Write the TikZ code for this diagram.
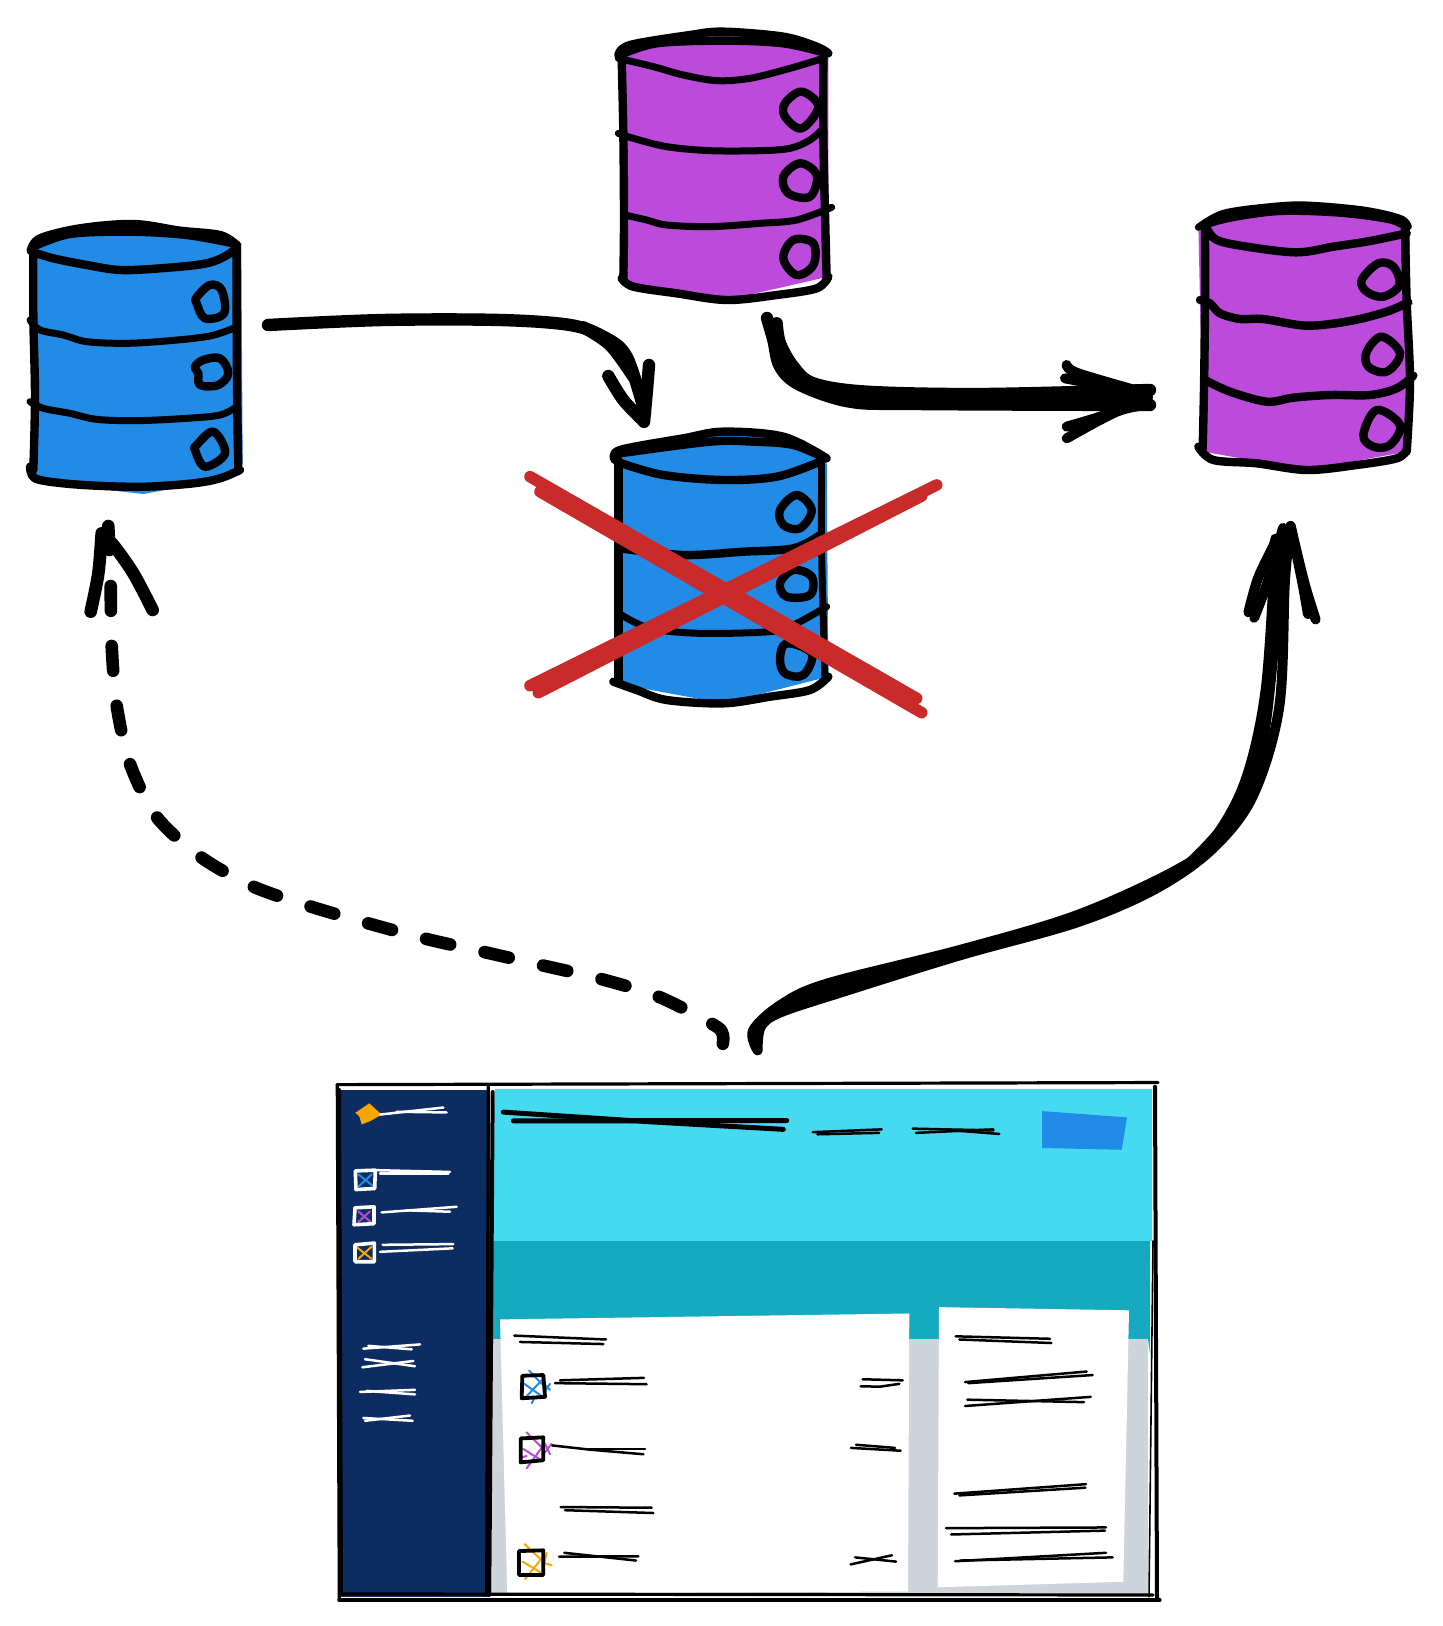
\documentclass[tikz,border=0pt]{standalone}
\definecolor{dbblue}{HTML}{228BE6}
\definecolor{dbpurple}{HTML}{BC4ADB}
\definecolor{crossred}{HTML}{C92A2A}
\definecolor{amber}{HTML}{F7A600}
\definecolor{skycyan}{HTML}{46DAF1}
\definecolor{tealband}{HTML}{15AABF}
\definecolor{paneGray}{HTML}{CED4DC}
\definecolor{navy}{HTML}{0D2D62}
\tikzset{
  zoomed/.style 2 args={xshift=#1*0.5pt,yshift=-#2*0.5pt,x=0.16667pt,y=-0.16667pt},
  appzoom/.style={xshift=#1*0.5pt,yshift=-534.4pt,x=0.16667pt,y=-0.176pt},
  ink/.style={black,line width=4.2pt,line cap=round,line join=round},
  inkthin/.style={ink,line width=3.5pt},
  ringline/.style={ink,line width=4.2pt},
  thickarrow/.style={ink,line width=6.2pt},
  bigarrow/.style={ink,line width=5pt},
  dashline/.style={ink,line width=6.3pt,dash pattern=on 12.4pt off 17.6pt},
  redx/.style={crossred,line width=5.8pt,line cap=round},
  fineblack/.style={black,line width=1.25pt,line cap=round,line join=round},
  finewhite/.style={white,line width=1.25pt,line cap=round,line join=round},
  frame/.style={black,line width=1.6pt,line cap=round},
  hatch/.style={line width=1pt,line cap=round},
}
\newcommand\sk[2][ink]{\draw[#1] plot[smooth,tension=.55] coordinates {#2};}
\newcommand\ring[1]{\draw[ringline] plot[smooth cycle,tension=.6] coordinates {#1};}
\newcommand\body[2]{\fill[#1] plot coordinates {#2} -- cycle;}
\begin{document}
\begin{tikzpicture}[x=0.5pt,y=-0.5pt]
\useasboundingbox (0,0) rectangle (1442,1626);
\fill[white] (0,0) rectangle (1442,1626);

% ---- left blue database
\begin{scope}[zoomed={20}{210}]
\body{dbblue}{(35,110)(200,50)(340,40)(620,70)(664,100)(668,760)(600,810)(370,852)(130,825)(35,790)}
\sk{(32,122)(60,85)(180,55)(340,42)(480,62)(600,75)(650,105)}
\sk{(40,110)(150,72)(330,65)(500,75)(640,100)}
\sk{(35,125)(100,145)(200,165)(300,180)(420,175)(560,160)(630,130)(650,105)}
\sk{(40,125)(40,320)(45,560)(40,780)}
\sk{(650,105)(650,350)(652,600)(655,780)}
\sk[inkthin]{(30,330)(60,360)(130,375)(200,395)(320,400)(450,392)(570,378)(640,355)}
\sk[inkthin]{(30,575)(70,595)(150,610)(230,628)(350,632)(500,625)(600,615)(650,590)}
\sk{(30,770)(45,805)(130,820)(250,828)(380,830)(520,820)(600,805)(660,780)}
\ring{(530,262)(570,225)(605,240)(612,310)(555,325)(530,280)}
\ring{(525,470)(550,450)(600,445)(625,490)(595,525)(540,525)(535,490)}
\ring{(530,705)(580,665)(615,730)(555,770)(525,720)}
\end{scope}

% ---- top purple database
\begin{scope}[zoomed={610}{20}]
\body{dbpurple}{(25,105)(240,45)(340,30)(620,80)(655,100)(655,770)(350,840)(40,790)}
\sk{(25,105)(60,75)(240,45)(340,35)(520,50)(620,80)(655,100)}
\sk{(30,105)(140,70)(340,62)(520,70)(650,100)}
\sk[inkthin]{(25,115)(130,140)(220,165)(320,182)(420,175)(540,145)(640,115)}
\sk{(35,115)(40,340)(42,600)(40,780)}
\sk{(640,110)(640,350)(645,580)(650,780)}
\sk[inkthin]{(25,340)(70,355)(170,380)(300,392)(450,392)(540,385)(600,360)(640,325)}
\sk[inkthin]{(45,585)(110,600)(170,615)(300,620)(450,610)(560,600)(665,562)}
\sk{(35,775)(70,800)(200,820)(350,840)(500,825)(620,805)(655,770)}
\ring{(525,250)(575,215)(625,260)(575,325)(525,290)}
\ring{(520,470)(570,430)(620,465)(600,530)(535,520)}
\ring{(520,715)(550,660)(610,670)(610,735)(560,765)}
\end{scope}

% ---- right purple database
\begin{scope}[zoomed={1190}{195}]
\body{dbpurple}{(25,95)(100,55)(330,25)(630,70)(660,90)(650,770)(350,825)(40,770)}
\sk[inkthin]{(25,97)(100,55)(240,35)(350,30)(520,45)(630,70)(655,95)}
\sk[inkthin]{(30,95)(120,70)(270,50)(450,55)(600,75)(650,100)}
\sk{(50,100)(80,135)(170,155)(320,172)(430,155)(540,138)(650,115)}
\sk{(45,110)(45,330)(42,580)(38,760)}
\sk{(645,100)(650,320)(660,560)(650,770)}
\sk{(30,315)(60,325)(90,355)(150,372)(220,372)(350,392)(480,378)(590,350)(655,322)}
\sk{(45,555)(120,590)(230,620)(310,608)(420,600)(540,600)(620,580)(670,542)}
\sk{(25,755)(70,795)(200,805)(350,825)(500,810)(620,790)(650,765)}
\ring{(515,255)(565,205)(610,215)(628,270)(580,305)(530,290)}
\ring{(530,470)(575,425)(630,475)(590,530)(535,515)}
\ring{(520,720)(560,645)(630,690)(600,750)(550,755)}
\end{scope}

% ---- crossed blue database
\begin{scope}[zoomed={510}{420}]
\body{dbblue}{(315,120)(520,55)(640,35)(880,60)(950,110)(955,770)(640,850)(315,790)}
\sk{(315,120)(330,90)(520,55)(640,35)(820,50)(950,115)}
\sk{(330,100)(600,65)(730,65)(850,75)(945,115)}
\sk{(335,130)(460,165)(640,180)(800,170)(930,125)}
\sk{(325,120)(325,500)(325,790)}
\sk[inkthin]{(935,120)(935,400)(945,770)}
\sk{(330,385)(520,405)(700,395)(850,385)(930,345)}
\sk[inkthin]{(335,585)(420,625)(570,640)(780,635)(850,615)(950,560)}
\sk{(310,785)(380,810)(470,840)(640,850)(780,830)(900,810)(955,770)}
\ring{(810,270)(860,225)(905,270)(870,325)(820,315)}
\ring{(810,490)(850,450)(905,470)(900,525)(830,530)}
\ring{(810,715)(830,670)(905,700)(880,765)(825,760)}
\draw[redx] (60,170) -- (1220,835);
\draw[redx] (90,215) -- (1235,878);
\draw[redx] (1280,195) -- (60,797);
\draw[redx] (1235,228) -- (85,818);
\end{scope}

% ---- named connector ends
\coordinate (blueOut) at (268,325);
\coordinate (blueIn) at (644,421.7);
\coordinate (purpleOut) at (767,318);
\coordinate (rightInA) at (1150,390);
\coordinate (rightInB) at (1150,405);
\coordinate (appLeft) at (722,1049);
\coordinate (leftIn) at (110.7,586);
\coordinate (appRight) at (757.6,1050.3);
\coordinate (rightIn) at (1290.6,526);
\coordinate (leftTip) at (108.3,526);

% ---- arrow: left blue to crossed blue
\begin{scope}[zoomed={250}{300}]
\draw[thickarrow] plot[smooth,tension=.55] coordinates {(blueOut) (400,60) (750,60) (960,75) (1060,110) (1130,170) (1185,340)};
\sk[thickarrow]{(1000,82)(1080,135)(1150,230)}
\sk[thickarrow]{(1075,228)(1120,300)(1182,365)}
\draw[thickarrow] plot[smooth,tension=.55] coordinates {(1197,195) (1190,280) (blueIn)};
\end{scope}

% ---- arrow: top purple to right purple
\begin{scope}[zoomed={750}{300}]
\draw[thickarrow] plot[smooth,tension=.55] coordinates {(purpleOut) (70,120) (90,200) (150,255) (300,305) (500,312) (rightInB)};
\draw[thickarrow] plot[smooth,tension=.55] coordinates {(80,70) (90,130) (130,200) (190,250) (350,275) (700,282) (rightInA)};
\sk[thickarrow]{(120,210)(220,275)(400,295)(1190,292)}
\sk[bigarrow]{(950,195)(985,220)(1190,280)}
\sk[bigarrow]{(945,235)(1100,265)}
\sk[bigarrow]{(950,380)(1050,350)(1190,300)}
\sk[bigarrow]{(950,415)(1100,335)(1190,315)}
\end{scope}

% ---- dashed arrow: app to left blue
\draw[dashline] plot[smooth,tension=.5] coordinates {(leftIn) (111.7,646) (116.7,705.7) (130,764) (156.7,817) (200.7,857) (252.8,886.4) (309,906) (367,923) (424.5,938.5) (484,952) (543,965.5) (601,979) (658.6,996.7) (713.7,1024.8) (723,1035) (appLeft)};
\begin{scope}[zoomed={70}{510}]
\sk[thickarrow,line width=6.3pt]{(62,305)(85,190)(95,70)}
\draw[thickarrow,line width=6.3pt] (leftTip) -- (118,120);
\sk[thickarrow,line width=6.3pt]{(248,300)(190,190)(130,105)(105,85)}
\end{scope}

% ---- big arrow: app to right purple
\begin{scope}[xshift=365pt,yshift=-255pt,x=0.192pt,y=-0.1795pt]
\draw[bigarrow] plot[smooth,tension=.55] coordinates {(appRight) (60,1450) (130,1380) (250,1320) (600,1225) (900,1130) (1150,1010) (1250,930) (1340,760) (1395,500) (1420,100)};
\draw[bigarrow] plot[smooth,tension=.55] coordinates {(appRight) (80,1440) (130,1400) (300,1340) (600,1240) (900,1150) (1100,1060) (1250,950) (1360,800) (1430,550) (1445,200) (rightIn)};
\sk[bigarrow]{(90,1420)(170,1370)(300,1325)(600,1232)}
\sk[bigarrow]{(1200,980)(1300,860)(1380,680)(1415,400)(1435,100)}
\sk[bigarrow]{(1350,285)(1375,190)(1415,100)(1420,80)}
\sk[bigarrow]{(1365,300)(1400,200)(1440,50)}
\draw[bigarrow] plot[smooth,tension=.55] coordinates {(1525,305) (1495,200) (rightIn)};
\draw[bigarrow] plot[smooth,tension=.55] coordinates {(1505,290) (1490,200) (rightIn)};
\end{scope}

% ---- application window: panels and frame
\begin{scope}[yshift=30.56pt,yscale=1.056]
\fill[navy] (338,1090) rectangle (490,1570);
\fill[paneGray] (492,1326) rectangle (1148,1567);
\fill[tealband] (492,1233) rectangle (1150,1326);
\fill[tealband] (1148,1233) -- (1150,1233) -- (1150,1340) -- (1148,1326) -- cycle;
\fill[skycyan] (495,1089) -- (1152,1089) -- (1152,1233) -- (492,1233) -- cycle;
\fill[white] (500,1307.3) -- (909.3,1301.7) -- (908,1565) -- (507.3,1566.7) -- cycle;
\fill[white] (939,1295.7) -- (1129,1298.7) -- (1123.3,1555.7) -- (937.7,1561) -- cycle;
\fill[dbblue] (1042,1110) -- (1127,1116) -- (1121.7,1146.7) -- (1042,1145) -- cycle;
\draw[frame] (337,1085) -- (1158,1083);
\draw[frame] (339,1573) -- (1160,1573);
\draw[frame] (341.7,1567.3) -- (1153,1568.3);
\draw[frame] (337.3,1085) -- (339.3,1573);
\draw[frame,line width=2pt] (339,1090) -- (341,1567);
\draw[frame] (488.3,1087) -- (486.7,1568);
\draw[frame,line width=2pt] (492.7,1092) -- (489.3,1568);
\draw[frame,line width=2pt] (1155,1087) -- (1157,1573);
\draw[frame,line width=.8pt] (1153,1233) -- (1149,1570);
\end{scope}

% ---- left part of the window
\begin{scope}[appzoom=330]
\fill[amber] (76,125) -- (118,98) -- (155,130) -- (122,148) -- (95,158) -- (88,135) -- cycle;
\draw[ink,line width=2.5pt] (520,123) -- (950,150) -- (1360,172);
\draw[ink,line width=2.5pt] (550,148) -- (1370,147);
\draw[finewhite] (150,130) -- (340,110);
\draw[finewhite] (200,122) -- (350,124);
\draw[finewhite] (140,288) -- (360,293);
\draw[finewhite] (150,297) -- (355,297);
\draw[finewhite] (155,408) -- (380,392);
\draw[finewhite] (230,402) -- (360,406);
\draw[finewhite] (158,500) -- (370,498);
\draw[finewhite] (150,520) -- (368,510);
\draw[finewhite] (100,795) -- (270,783);
\draw[finewhite] (115,787) -- (245,797);
\draw[finewhite] (105,825) -- (255,845);
\draw[finewhite] (97,848) -- (250,830);
\draw[finewhite] (90,918) -- (255,912);
\draw[finewhite] (110,915) -- (255,925);
\draw[finewhite] (100,992) -- (248,1000);
\draw[finewhite] (105,1000) -- (240,985);
% sidebar check boxes
\draw[hatch,dbblue] (85,300) -- (128,332) (125,300) -- (85,335);
\draw[finewhite,line width=1.8pt] (76,290) -- (136,288) -- (134,340) -- (78,343) -- cycle;
\draw[hatch,dbpurple] (85,405) -- (122,435) (120,405) -- (85,435);
\draw[finewhite,line width=1.8pt] (75,395) -- (132,392) -- (132,440) -- (72,443) -- cycle;
\draw[hatch,amber] (82,508) -- (125,540) (125,505) -- (85,540);
\draw[finewhite,line width=1.8pt] (75,500) -- (133,495) -- (133,548) -- (75,548) -- cycle;
% list check boxes
\draw[hatch,dbblue] (597,857) -- (635,895) (583,895) -- (638,932) (585,935) -- (640,880) (645,915) -- (660,895) (640,895) -- (660,912) (605,950) -- (612,938);
\draw[fineblack,line width=1.9pt] (577,872) -- (640,870) -- (645,932) -- (575,936) -- cycle;
\draw[hatch,dbpurple] (590,1033) -- (640,1080) (580,1080) -- (630,1110) (590,1135) -- (640,1070) (640,1095) -- (665,1065) (645,1065) -- (660,1095) (570,1105) -- (590,1100);
\draw[fineblack,line width=1.9pt] (572,1050) -- (640,1047) -- (640,1112) -- (572,1118) -- cycle;
\draw[hatch,amber] (583,1350) -- (640,1400) (578,1400) -- (630,1430) (585,1450) -- (640,1385) (650,1375) -- (640,1415) (645,1405) -- (665,1410);
\draw[fineblack,line width=1.9pt] (567,1370) -- (640,1368) -- (640,1438) -- (567,1438) -- cycle;
% list lines
\draw[fineblack] (553,758) -- (828,769);
\draw[fineblack] (570,776) -- (820,782);
\draw[fineblack] (675,893) -- (950,896);
\draw[fineblack] (690,885) -- (942,878);
\draw[fineblack] (667,1070) -- (780,1082) -- (940,1095);
\draw[fineblack] (760,1080) -- (945,1080);
\draw[fineblack] (692,1245) -- (965,1247);
\draw[fineblack] (705,1254) -- (970,1262);
\draw[fineblack] (687,1386) -- (925,1385);
\draw[fineblack] (703,1375) -- (918,1397);
\end{scope}

% ---- right part of the window
\begin{scope}[appzoom=780]
\draw[fineblack] (98,180) -- (305,172);
\draw[fineblack] (112,186) -- (298,182);
\draw[fineblack] (398,170) -- (640,175);
\draw[fineblack] (408,182) -- (640,172);
\draw[fineblack] (520,175) -- (658,185);
\draw[fineblack] (248,882) -- (368,885);
\draw[fineblack] (242,902) -- (300,903) -- (358,895);
\draw[fineblack] (228,1068) -- (345,1077);
\draw[fineblack] (213,1077) -- (362,1085);
\draw[fineblack] (225,1388) -- (348,1400);
\draw[fineblack] (212,1408) -- (336,1382);
\draw[fineblack] (527,760) -- (810,767);
\draw[fineblack] (538,769) -- (814,779);
\draw[fineblack] (555,890) -- (920,860);
\draw[fineblack] (565,893) -- (938,870);
\draw[fineblack] (562,940) -- (912,947);
\draw[fineblack] (555,958) -- (932,932);
\draw[fineblack] (523,1207) -- (918,1180);
\draw[fineblack] (538,1212) -- (916,1190);
\draw[fineblack] (498,1305) -- (978,1303);
\draw[fineblack] (513,1323) -- (975,1312);
\draw[fineblack] (525,1399) -- (978,1375);
\draw[fineblack] (540,1397) -- (998,1388);
\end{scope}
\end{tikzpicture}
\end{document}
